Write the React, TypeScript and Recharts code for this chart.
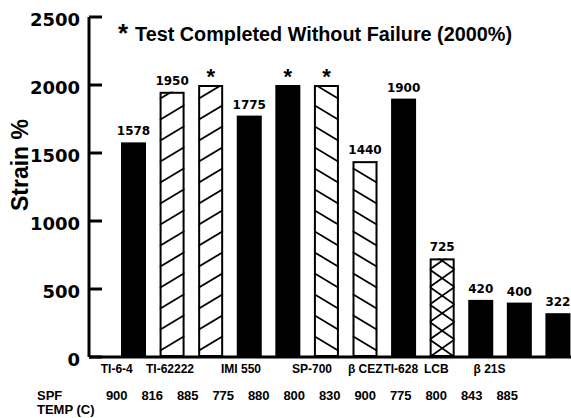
import React from 'react';
import { BarChart, Bar, XAxis, YAxis, LabelList } from 'recharts';

// alloy name per bar (consecutive repeats form one group label)
const ALLOYS = ['TI-6-4', 'TI-62222', 'TI-62222', 'IMI 550', 'IMI 550', 'SP-700', 'SP-700', 'β CEZ', 'TI-628', 'LCB', 'β 21S', 'β 21S'];
const SPF_TEMPS = ['900', '816', '885', '775', '880', '800', '830', '900', '775', '800', '843', '885'];
const STRAIN = [1578, 1950, 2000, 1775, 2000, 2000, 1440, 1900, 725, 420, 400, 322];
// bars where the test stopped at 2000% without failure
const NO_FAILURE = [false, false, true, false, true, true, false, false, false, false, false, false];
const Y_TICKS = [0, 500, 1000, 1500, 2000, 2500];

// fill style per bar: solid black, "/" hatch, "\" hatch, cross hatch
const BAR_STYLE = ['solid', 'fwd', 'fwd', 'solid', 'solid', 'back', 'back', 'solid', 'cross', 'solid', 'solid', 'solid'];

const data = STRAIN.map((v, i) => ({
  id: `bar${i}`,
  strain: v,
  label: NO_FAILURE[i] ? '*' : String(v),
}));

const W = 571;
const H = 418;
const PLOT_LEFT = 89;
const PLOT_TOP = 17;
const OVERHANG = 6; // last bar runs off the right edge
const TEMP_PAD_L = 10;
const TEMP_PAD_R = 52;
const TEMP_STEP = (W + OVERHANG - PLOT_LEFT - TEMP_PAD_L - TEMP_PAD_R) / STRAIN.length;

const ARIAL = '"Liberation Sans", Arial, sans-serif';
const DEJAVU = '"DejaVu Sans", sans-serif';

const YTick = (props: any) => {
  const { y, payload } = props;
  return (
    <g>
      <line x1={PLOT_LEFT} x2={PLOT_LEFT + 13} y1={y} y2={y} stroke="#000" strokeWidth={3} />
      <text x={80} y={y + 8.5} textAnchor="end" fontFamily={DEJAVU} fontWeight="bold" fontSize={18} fill="#000">
        {payload.value}
      </text>
    </g>
  );
};

const TempTick = (props: any) => {
  const { x, payload } = props;
  const i = payload.index;
  let group = null;
  if (i === 0 || ALLOYS[i] !== ALLOYS[i - 1]) {
    let span = 1;
    while (ALLOYS[i + span] === ALLOYS[i]) span++;
    group = (
      <text x={x + ((span - 1) * TEMP_STEP) / 2} y={373} textAnchor="middle" fontFamily={ARIAL} fontWeight="bold" fontSize={12} fill="#000">
        {ALLOYS[i]}
      </text>
    );
  }
  return (
    <g>
      {group}
      <text x={x} y={400} textAnchor="middle" fontFamily={ARIAL} fontWeight="bold" fontSize={13} fill="#000">
        {SPF_TEMPS[i]}
      </text>
    </g>
  );
};

const HatchBar = (props: any) => {
  const { x, y, width, height, index } = props;
  const kind = BAR_STYLE[index];
  if (kind === 'solid') return <rect x={x} y={y} width={width} height={height} fill="#000" />;
  const step = kind === 'cross' ? 17.5 : 21;
  const rise = kind === 'cross' ? 17.5 : 15;
  const bottom = y + height;
  const lines: React.ReactNode[] = [];
  for (let yy = bottom + rise, k = 0; yy > y - rise; yy -= step, k++) {
    if (kind === 'fwd' || kind === 'cross')
      lines.push(<line key={`f${k}`} x1={x} y1={yy} x2={x + width} y2={yy - rise} stroke="#000" strokeWidth={1.8} />);
    if (kind === 'back' || kind === 'cross')
      lines.push(<line key={`b${k}`} x1={x} y1={yy - rise} x2={x + width} y2={yy} stroke="#000" strokeWidth={1.8} />);
  }
  const clipId = `hatch-clip-${index}`;
  return (
    <g>
      <defs>
        <clipPath id={clipId}>
          <rect x={x} y={y} width={width} height={height} />
        </clipPath>
      </defs>
      <rect x={x} y={y} width={width} height={height} fill="#fff" />
      <g clipPath={`url(#${clipId})`}>{lines}</g>
      <rect x={x + 1} y={y + 1} width={width - 2} height={height - 2} fill="none" stroke="#000" strokeWidth={2} />
    </g>
  );
};

const ValueLabel = (props: any) => {
  const { x, y, width, value } = props;
  const cx = x + width / 2;
  if (value === '*') {
    return (
      <text x={cx} y={y - 1} textAnchor="middle" fontFamily={ARIAL} fontWeight="bold" fontSize={22} fill="#000">*</text>
    );
  }
  return (
    <text x={cx} y={y - 7} textAnchor="middle" fontFamily={DEJAVU} fontWeight="bold" fontSize={12} fill="#000">
      {value}
    </text>
  );
};

export default function App() {
  return (
    <div style={{ position: 'absolute', left: 0, top: 0, width: W, height: H, background: '#fff' }}>
      <BarChart width={W} height={H} data={data} margin={{ top: PLOT_TOP, right: -OVERHANG, bottom: 0, left: 0 }}>
        <XAxis
          xAxisId="bars"
          dataKey="id"
          padding={{ left: 25, right: 0 }}
          tick={false}
          tickLine={false}
          axisLine={{ stroke: '#000', strokeWidth: 3 }}
          height={30}
        />
        <XAxis
          xAxisId="temps"
          dataKey="id"
          padding={{ left: TEMP_PAD_L, right: TEMP_PAD_R }}
          axisLine={false}
          tickLine={false}
          interval={0}
          tick={<TempTick />}
          height={31}
        />
        <YAxis
          width={PLOT_LEFT}
          domain={[0, 2500]}
          ticks={Y_TICKS}
          interval={0}
          tickLine={false}
          axisLine={{ stroke: '#000', strokeWidth: 3 }}
          tick={<YTick />}
        />
        <Bar xAxisId="bars" dataKey="strain" barSize={25} shape={<HatchBar />} isAnimationActive={false}>
          <LabelList dataKey="label" content={<ValueLabel />} />
        </Bar>

        <text x={118} y={42} fontFamily={ARIAL} fontWeight="bold" fontSize={26} fill="#000">*</text>
        <text x={135} y={41} fontFamily={ARIAL} fontWeight="bold" fontSize={19.5} fill="#000" textLength={377} lengthAdjust="spacingAndGlyphs">
          Test Completed Without Failure (2000%)
        </text>
        <text x={20} y={165} transform="rotate(-90 20 165)" textAnchor="middle" dominantBaseline="central" fontFamily={ARIAL} fontWeight="bold" fontSize={23} fill="#000">
          Strain %
        </text>
        <text x={37} y={400} fontFamily={ARIAL} fontWeight="bold" fontSize={13} fill="#000">SPF</text>
        <text x={37} y={414} fontFamily={ARIAL} fontWeight="bold" fontSize={13} fill="#000">TEMP (C)</text>
      </BarChart>
    </div>
  );
}
